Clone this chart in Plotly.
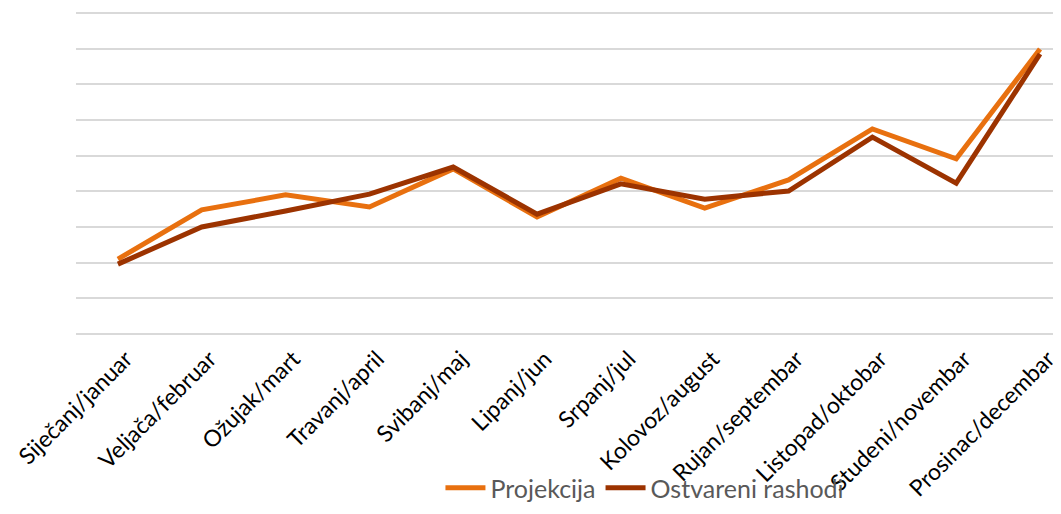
import plotly.graph_objects as go

months = ["Siječanj/januar", "Veljača/februar", "Ožujak/mart", "Travanj/april",
          "Svibanj/maj", "Lipanj/jun", "Srpanj/jul", "Kolovoz/august",
          "Rujan/septembar", "Listopad/oktobar", "Studeni/novembar", "Prosinac/decembar"]
projekcija = [21.0, 34.8, 39.0, 35.6, 46.3, 32.8, 43.7, 35.3, 43.2, 57.5, 49.1, 79.9]
ostvareni = [19.6, 30.0, 34.5, 39.2, 46.8, 33.6, 42.1, 37.8, 40.1, 55.2, 42.3, 78.5]

fig = go.Figure()
fig.add_trace(go.Scatter(x=months, y=projekcija, mode="lines", name="Projekcija",
                         line=dict(color="#E8700F", width=5)))
fig.add_trace(go.Scatter(x=months, y=ostvareni, mode="lines", name="Ostvareni rashodi",
                         line=dict(color="#9C3300", width=5)))

fig.update_layout(
    width=1053, height=506,
    margin=dict(l=68, r=0, t=2, b=177, autoexpand=False),
    paper_bgcolor="white", plot_bgcolor="white",
    showlegend=True,
    legend=dict(orientation="h", x=0.37, xanchor="left", y=-0.462, yanchor="middle",
                font=dict(family="Lato", size=25, color="#595959"),
                bgcolor="rgba(0,0,0,0)", itemwidth=40, tracegroupgap=0),
    font=dict(family="Lato"),
)
fig.update_xaxes(type="category", range=[-0.5, 11.25], showgrid=False, zeroline=False,
                 showline=False, tickangle=-45, ticks="", automargin=False,
                 ticklabelshift=8, ticklabelstandoff=3,
                 tickfont=dict(family="Lato", size=23, color="black"))
fig.update_yaxes(range=[-0.84, 90.84], dtick=10, showgrid=True, gridcolor="#D9D9D9", gridwidth=2,
                 showticklabels=False, zeroline=False, showline=False, ticks="",
                 automargin=False)
fig.write_html("out.html")
